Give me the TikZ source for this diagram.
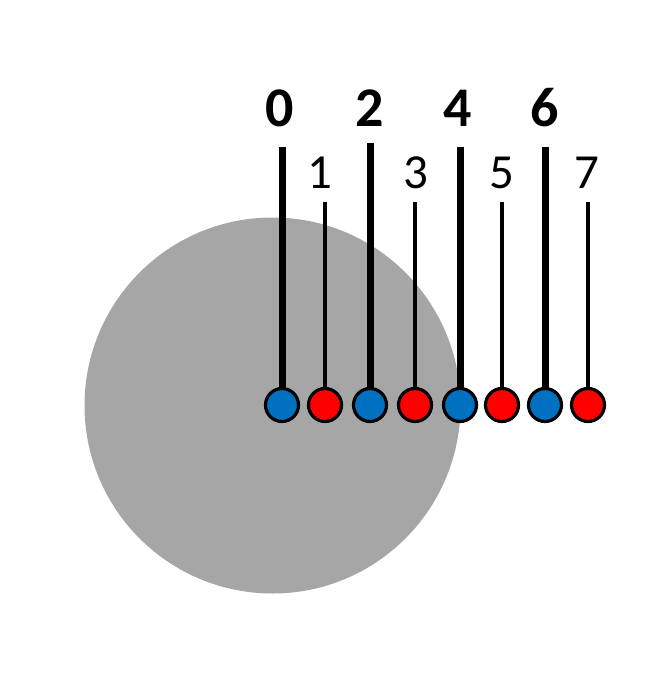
\documentclass[tikz,border=0pt]{standalone}
\usepackage{fontspec}
\setmainfont{Carlito}
\definecolor{discgray}{HTML}{A6A6A6}
\definecolor{ballblue}{HTML}{0070C0}
\definecolor{ballred}{HTML}{FF0000}
\tikzset{
  evenrod/.style={line width=7pt},
  oddrod/.style={line width=4pt},
  ballbase/.style={circle, draw=black, line width=3.2pt, minimum size=33pt, inner sep=0pt},
  blueball/.style={ballbase, fill=ballblue},
  redball/.style={ballbase, fill=ballred},
  evenlabel/.style={font=\fontsize{56}{56}\selectfont\bfseries, inner sep=0pt},
  oddlabel/.style={font=\fontsize{49}{49}\selectfont, inner sep=0pt},
}
\begin{document}
\begin{tikzpicture}[x=1pt,y=-1pt]
\useasboundingbox (0,0) rectangle (667,679);
\fill[discgray] (272.5,405.5) circle (188);
% balls
\node[blueball] (b0) at (282,405) {};
\node[redball]  (b1) at (325,405) {};
\node[blueball] (b2) at (370,405) {};
\node[redball]  (b3) at (415,405) {};
\node[blueball] (b4) at (460,405) {};
\node[redball]  (b5) at (502,405) {};
\node[blueball] (b6) at (545,405) {};
\node[redball]  (b7) at (588,405) {};
% rod tops
\coordinate (t0) at (282,147);
\coordinate (t1) at (325,202);
\coordinate (t2) at (370,143);
\coordinate (t3) at (415,202);
\coordinate (t4) at (460,147);
\coordinate (t5) at (502,202);
\coordinate (t6) at (545,147);
\coordinate (t7) at (588,202);
% rods
\draw[evenrod] (t0) -- (b0.north);
\draw[oddrod]  (t1) -- (b1.north);
\draw[evenrod] (t2) -- (b2.north);
\draw[oddrod]  (t3) -- (b3.north);
\draw[evenrod] (t4) -- (b4.north);
\draw[oddrod]  (t5) -- (b5.north);
\draw[evenrod] (t6) -- (b6.north);
\draw[oddrod]  (t7) -- (b7.north);
% labels
\node[evenlabel] (l0) at (280,108) {0};
\node[evenlabel] (l2) at (370,108) {2};
\node[evenlabel] (l4) at (458,108) {4};
\node[evenlabel] (l6) at (545,108) {6};
\node[oddlabel] (l1) at (320,173) {1};
\node[oddlabel] (l3) at (416,173) {3};
\node[oddlabel] (l5) at (502,173) {5};
\node[oddlabel] (l7) at (587,173) {7};
\end{tikzpicture}
\end{document}
